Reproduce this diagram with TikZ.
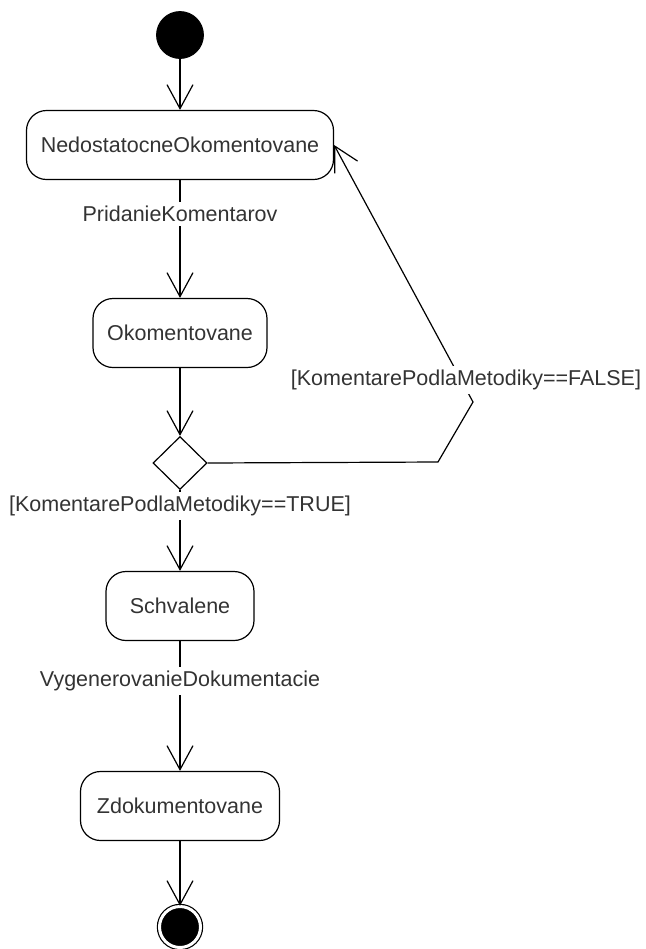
\documentclass[tikz,border=0pt]{standalone}
\usepackage{fontspec}
\setmainfont{Liberation Sans}
\usetikzlibrary{arrows.meta,shapes.geometric}

\begin{document}
\begin{tikzpicture}[node distance=55pt, >={Straight Barb[length=12pt,width=13pt]},
    every node/.style={font=\fontsize{10.75}{13}\selectfont, text=black!80},
    state/.style={rectangle, rounded corners=10pt, draw, line width=0.6pt, minimum height=34.5pt, inner sep=0pt},
    initial/.style={circle, draw, fill=black, minimum size=23.5pt, inner sep=0pt},
    final/.style={circle, draw, fill=black, line width=0.6pt, double, double distance=1.5pt, minimum size=20.5pt, inner sep=0pt},
    choice/.style={diamond, draw, line width=0.6pt, minimum width=27pt, minimum height=26.5pt, inner sep=0pt},
    guard/.style={fill=white, inner sep=2pt},
    trans/.style={->, line width=0.6pt}]
    \useasboundingbox (-90pt,17.5pt) rectangle (232.5pt,-457pt);

    \node[initial] (start) {};
    \node[state, minimum width=153.5pt] (ned) [below of=start] {NedostatocneOkomentovane};
    \node[state, minimum width=87pt] (oko) [below of=ned, node distance=94pt] {Okomentovane};
    \node[choice] (dec) [below of=oko, node distance=65pt] {};
    \node[state, minimum width=74pt] (sch) [below of=dec, node distance=71.5pt] {Schvalene};
    \node[state, minimum width=99.5pt] (zdo) [below of=sch, node distance=100pt] {Zdokumentovane};
    \node[final] (end) [below of=zdo, node distance=60.5pt] {};

    \draw[trans] (start) -- (ned);
    \draw[trans] (ned) -- node[guard, pos=0.29] {PridanieKomentarov} (oko);
    \draw[trans] (oko) -- (dec);
    \draw[trans] (dec) -- node[guard, pos=0.2] {[KomentarePodlaMetodiky==TRUE]} (sch);
    \draw[trans] (sch) -- node[guard, pos=0.31] {VygenerovanieDokumentacie} (zdo);
    \draw[trans] (zdo) -- (end);

    % spat na zaciatok, ked komentare nie su podla metodiky
    \coordinate (k1) at (129pt,-213.5pt);
    \coordinate (k2) at (146.5pt,-183.5pt);
    \draw[trans] (dec.east) -- (k1) -- (k2) -- (ned.east);
    \node[guard] (nofalse) at (143pt,-172.5pt) {[KomentarePodlaMetodiky==FALSE]};
\end{tikzpicture}
\end{document}
